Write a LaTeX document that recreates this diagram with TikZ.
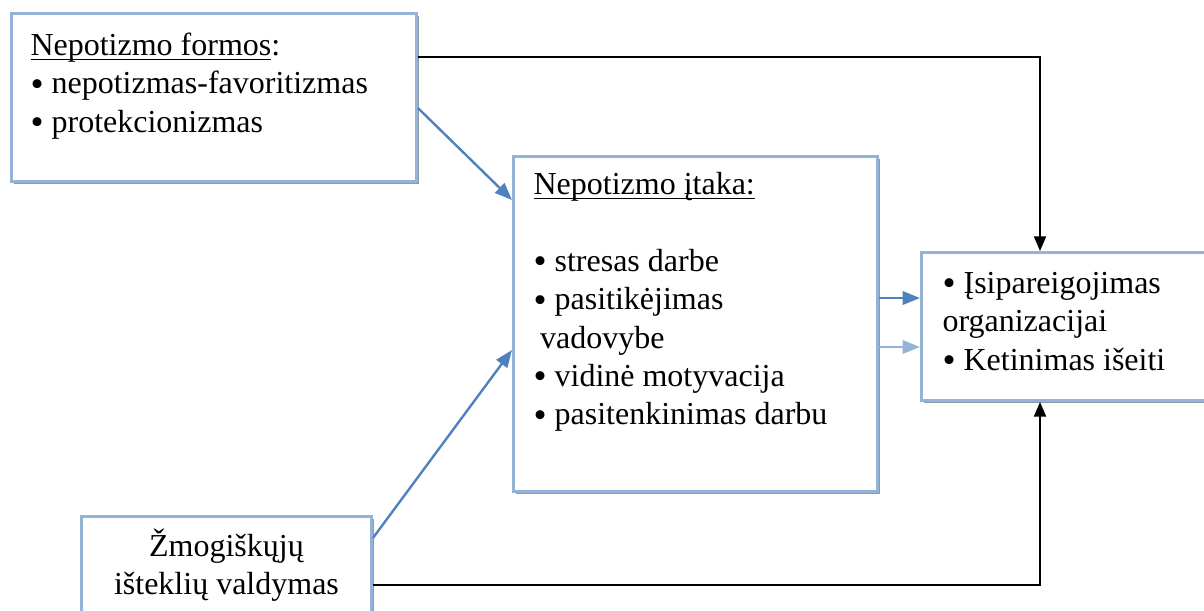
\documentclass[tikz,border=0pt]{standalone}
\usepackage{fontspec}
\setmainfont{Liberation Serif}
\usetikzlibrary{arrows.meta,shadows,calc}
\definecolor{boxblue}{HTML}{95B3D7}
\definecolor{arrowblue}{HTML}{4F81BD}
\definecolor{shadowgray}{HTML}{8D99AB}
\newcommand{\px}{0.375pt}
\newcommand{\bul}{\raisebox{-0.9pt}{\fontsize{14}{14}\selectfont\textbullet}\ }
\newcommand{\undl}[1]{\setbox0\hbox{#1}\rlap{\rule[-1.8pt]{\wd0}{0.55pt}}\box0}
\tikzset{
  box/.style={rectangle, draw=boxblue, line width=1.1pt, fill=white, inner sep=0pt,
    anchor=north west,
    drop shadow={shadow xshift=0.8pt, shadow yshift=-0.8pt, fill=shadowgray, opacity=1}},
  boxtext/.style={anchor=north west, align=left, inner sep=0pt,
    font=\fontsize{12}{14.4}\selectfont},
  bluearrow/.style={draw=arrowblue, line width=0.9pt, -{Triangle[length=6.5pt,width=5pt]}},
  lightarrow/.style={draw=boxblue, line width=0.9pt, -{Triangle[length=6.5pt,width=5pt]}},
  blackarrow/.style={draw=black, line width=0.75pt, -{Triangle[length=5.5pt,width=4.5pt]}}
}
\begin{document}
\begin{tikzpicture}[x=\px, y=-\px]
  \useasboundingbox (0,0) rectangle (1204,610);

  % boxes
  \node[box, minimum width=405*\px, minimum height=168*\px] (formos) at (10,12) {};
  \node[box, minimum width=364*\px, minimum height=335*\px] (itaka) at (512,155) {};
  \node[box, minimum width=292*\px, minimum height=148*\px] (pasekmes) at (920,251) {};
  \node[box, minimum width=290*\px, minimum height=110*\px] (zmogiskieji) at (80,515) {};

  % texts (first line carries a strut)
  \node[boxtext] (formosText) at ($(formos.north west)+(20,16)$)
    {\strut\undl{Nepotizmo formos}:\\
     \bul nepotizmas-favoritizmas\\
     \bul protekcionizmas};
  \node[boxtext] (itakaText) at ($(itaka.north west)+(21,12)$)
    {\strut\undl{Nepotizmo įtaka:}\\[14.4pt]
     \bul stresas darbe\\
     \bul pasitikėjimas\\
     \hspace{2.5pt}vadovybe\\
     \bul vidinė motyvacija\\
     \bul pasitenkinimas darbu};
  \node[boxtext] (pasekmesText) at ($(pasekmes.north west)+(22,15)$)
    {\strut\bul Įsipareigojimas\\
     organizacijai\\
     \bul Ketinimas išeiti};
  \node[boxtext, align=center, anchor=north] (zmogiskiejiText) at ($(zmogiskieji.north)+(0,13)$)
    {\strut Žmogiškųjų\\
     išteklių valdymas};

  % connectors
  \draw[blackarrow] (formos.east |- 0,57) -| (pasekmes.north -| 1040,0);
  \draw[blackarrow] (zmogiskieji.east |- 0,585) -| (pasekmes.south -| 1040,0);
  \draw[bluearrow] (formos.east |- 0,108) -- (itaka.west |- 0,200);
  \draw[bluearrow] (zmogiskieji.east |- 0,538) -- (itaka.west |- 0,350);
  \draw[bluearrow] (itaka.east |- 0,298) -- (pasekmes.west |- 0,298);
  \draw[lightarrow] (itaka.east |- 0,347) -- (pasekmes.west |- 0,347);
\end{tikzpicture}
\end{document}
